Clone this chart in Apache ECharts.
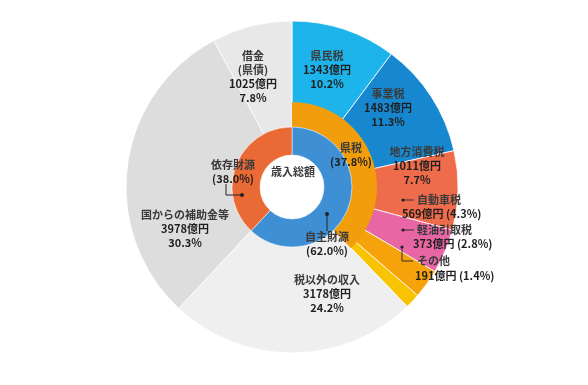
<!DOCTYPE html>
<html><head><meta charset="utf-8">
<script src="https://cdn.jsdelivr.net/npm/echarts@6/dist/echarts.min.js"></script>
<style>html,body{margin:0;padding:0;background:#fff}#c{width:588px;height:385px}</style>
</head><body><div id="c"></div>
<script>
// ---- data ----
const outerNames = ['県民税','事業税','地方消費税','自動車税','軽油引取税','その他','税以外の収入','国からの補助金等','借金'];
const outerValues = [1343, 1483, 1011, 569, 373, 191, 3178, 3978, 1025];
const outerPercents = ['10.2%','11.3%','7.7%','4.3%','2.8%','1.4%','24.2%','30.3%','7.8%'];
const outerNotes = ['','','','','','','','','(県債)'];
const middleNames = ['県税'];
const middlePercents = ['37.8%'];
const innerNames = ['自主財源','依存財源'];
const innerPercents = ['62.0%','38.0%'];
const centerTitle = '歳入総額';
const unit = '億円';

// ---- derived ----
const kenzeiValue = outerValues.slice(0,6).reduce((a,b)=>a+b,0);
const restValue = outerValues.slice(6).reduce((a,b)=>a+b,0);
const innerValues = [kenzeiValue + outerValues[6], outerValues[7] + outerValues[8]];

// ---- styles ----
const FONT = "'Noto Sans CJK JP','Noto Sans',sans-serif";
const outerColors = ['#1cb4ea','#1788d0','#ee6b4b','#e866a4','#f5a20b','#f8c300','#efefef','#dddddd','#e8e8e8'];
const kenzeiColor = '#f29e0c';
const innerColors = ['#3f8fd5','#ea6a36'];
const CX = 292, CY = 187;

const outerLabelPos = [
  [327,70,'center'],[388,108,'center'],[417,166,'center'],
  [402,207,'left'],[413,237,'left'],[415,268,'left'],
  [327,294,'center'],[185,229,'center'],[253,77,'center']
];
const middleLabelPos = [[351,155,'center']];
const innerLabelPos = [[327,244,'center'],[233,172,'center']];

const rich = {
  n: {fontFamily:FONT, fontSize:11, fontWeight:'bold', color:'#3a3a3a', lineHeight:14},
  v: {fontFamily:FONT, fontSize:11, fontWeight:'bold', color:'#1e1e1e', lineHeight:14},
  sp15: {width:15, lineHeight:14},
  sp4: {width:4, lineHeight:14},
  sp2: {width:2, lineHeight:16}
};

function outerFormatter(p){
  const i = p.dataIndex;
  const val = outerValues[i] + unit;
  const pct = outerPercents[i];
  if (i === 3) return '{sp15| }{n|' + outerNames[i] + '}\n{v|' + val + ' (' + pct + ')}';
  if (i === 4) return '{sp4| }{n|' + outerNames[i] + '}\n{v|' + val + ' (' + pct + ')}';
  if (i === 5) return '{sp2| }{n|' + outerNames[i] + '}\n{v|' + val + ' (' + pct + ')}';
  let s = '{n|' + outerNames[i] + '}';
  if (outerNotes[i]) s += '\n{n|' + outerNotes[i] + '}';
  return s + '\n{v|' + val + '}\n{v|' + pct + '}';
}
function layoutFrom(table){
  return function(params){
    const p = table[params.dataIndex];
    if (!p) return {};
    return {x:p[0], y:p[1], align:p[2], verticalAlign:'middle'};
  };
}
const middleData = (colorize) => [
  {name:middleNames[0], value:kenzeiValue, itemStyle:{color: colorize ? kenzeiColor : 'rgba(0,0,0,0)', borderWidth:0}},
  {name:'', value:restValue, itemStyle:{color:'rgba(0,0,0,0)', borderWidth:0}, label:{show:false}}
];

const chart = echarts.init(document.getElementById('c'));
chart.setOption({
  backgroundColor:'#ffffff',
  animation:false,
  series:[
    {
      type:'pie', z:1, center:[CX,CY], radius:[60,166], startAngle:90, clockwise:true,
      avoidLabelOverlap:false, silent:true,
      itemStyle:{borderColor:'#ffffff', borderWidth:0.8},
      label:{show:true, position:'inside', formatter:outerFormatter, rich:rich},
      labelLine:{show:false},
      labelLayout: layoutFrom(outerLabelPos),
      data: outerNames.map((n,i)=>({name:n, value:outerValues[i], itemStyle:{color:outerColors[i]}}))
    },
    {
      // 県税 ring (slices only)
      type:'pie', z:2, center:[CX,CY], radius:[60,85], startAngle:90, clockwise:true,
      avoidLabelOverlap:false, silent:true,
      label:{show:false}, labelLine:{show:false},
      data: middleData(true)
    },
    {
      type:'pie', z:3, center:[CX,CY], radius:[32,60], startAngle:90, clockwise:true,
      avoidLabelOverlap:false, silent:true,
      itemStyle:{borderColor:'#ffffff', borderWidth:0.5},
      label:{show:true, position:'inside', rich:rich,
        formatter:p=> '{n|' + innerNames[p.dataIndex] + '}\n{v|(' + innerPercents[p.dataIndex] + ')}'},
      labelLine:{show:false},
      labelLayout: layoutFrom(innerLabelPos),
      data: innerNames.map((n,i)=>({name:n, value:innerValues[i], itemStyle:{color:innerColors[i]}}))
    },
    {
      // 県税 label carrier (transparent, on top)
      type:'pie', z:4, center:[CX,CY], radius:[60,85], startAngle:90, clockwise:true,
      avoidLabelOverlap:false, silent:true,
      label:{show:true, position:'inside', rich:rich,
        formatter:p=> p.dataIndex===0 ? '{n|' + middleNames[0] + '}\n{v|(' + middlePercents[0] + ')}' : ''},
      labelLine:{show:false},
      labelLayout: layoutFrom(middleLabelPos),
      data: middleData(false)
    }
  ],
  graphic:[
    {type:'text', z:100, style:{text:centerTitle, x:CX+1, y:CY-15, align:'center', verticalAlign:'middle',
      font:"bold 11px " + FONT, fill:'#3a3a3a'}},
    // leader: 依存財源
    {type:'polyline', z:100, shape:{points:[[226,184],[226,195],[242,195]]}, style:{stroke:'#222', lineWidth:1, fill:null}},
    {type:'circle', z:100, shape:{cx:242, cy:195, r:2}, style:{fill:'#222'}},
    // leader: 自主財源
    {type:'line', z:100, shape:{x1:327, y1:214, x2:327, y2:231}, style:{stroke:'#222', lineWidth:1}},
    {type:'circle', z:100, shape:{cx:327, cy:214, r:2}, style:{fill:'#222'}},
    // leader: 自動車税
    {type:'line', z:100, shape:{x1:403, y1:200, x2:414, y2:200}, style:{stroke:'#333', lineWidth:1}},
    {type:'circle', z:100, shape:{cx:403, cy:200, r:1.6}, style:{fill:'#222'}},
    // leader: 軽油引取税
    {type:'line', z:100, shape:{x1:403, y1:230, x2:414, y2:230}, style:{stroke:'#333', lineWidth:1}},
    {type:'circle', z:100, shape:{cx:403, cy:230, r:1.6}, style:{fill:'#222'}},
    // leader: その他
    {type:'polyline', z:100, shape:{points:[[402,247],[402,261],[413,261]]}, style:{stroke:'#333', lineWidth:1, fill:null}},
    {type:'circle', z:100, shape:{cx:402, cy:247, r:1.6}, style:{fill:'#222'}}
  ]
});
</script></body></html>
